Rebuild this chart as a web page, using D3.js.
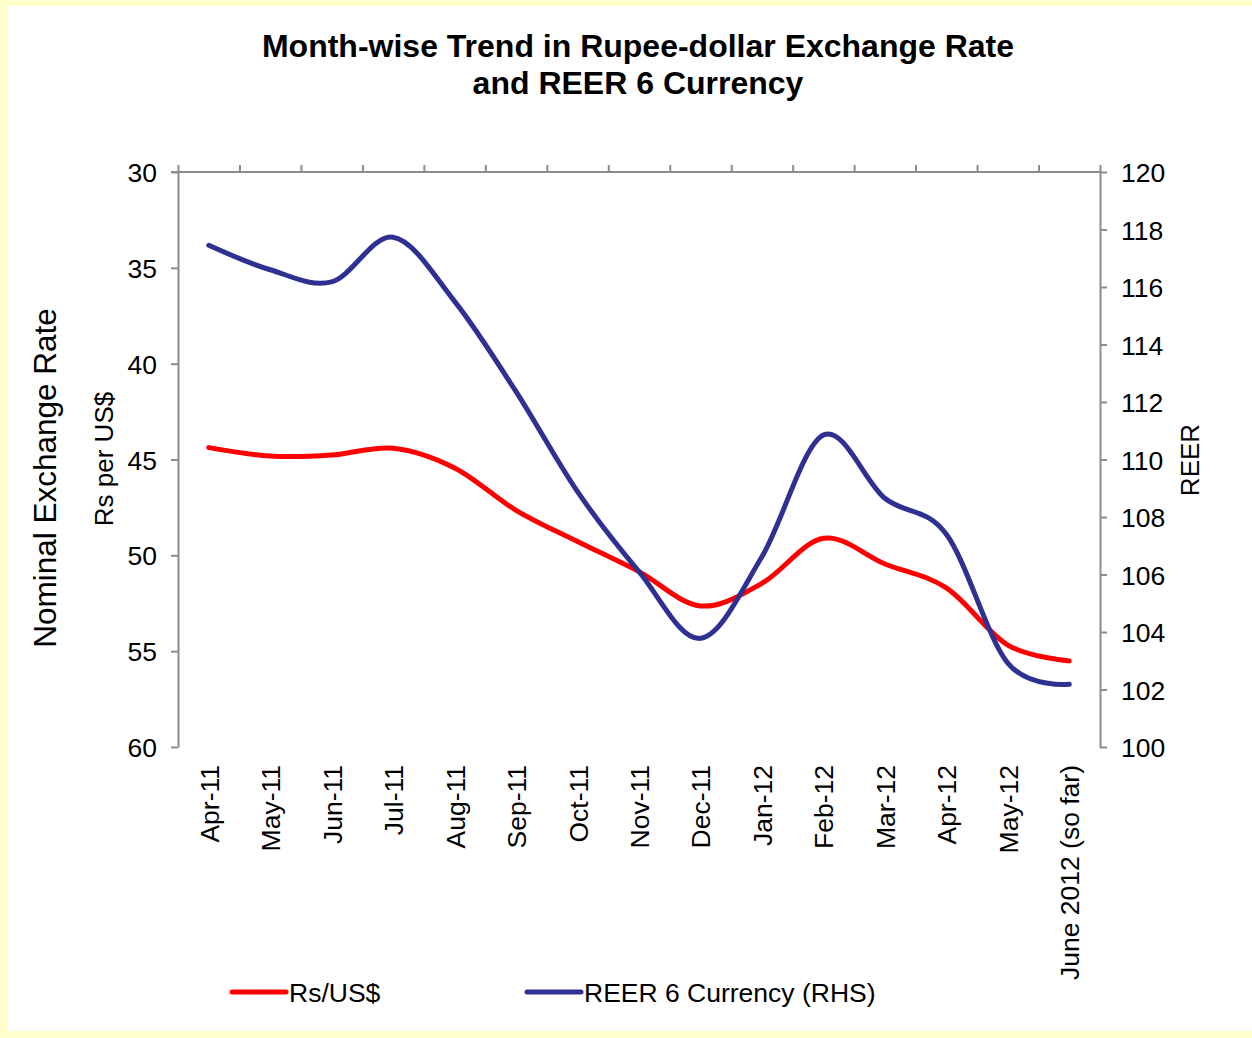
<!DOCTYPE html>
<html>
<head>
<meta charset="utf-8">
<script src="https://cdn.jsdelivr.net/npm/d3@7"></script>
<style>
  body { margin: 0; background: #FFFFCC; }
  svg { display: block; }
</style>
</head>
<body>
<div class="chart"></div>
<script>
// Month labels
const months = ["Apr-11", "May-11", "Jun-11", "Jul-11", "Aug-11", "Sep-11", "Oct-11", "Nov-11",
  "Dec-11", "Jan-12", "Feb-12", "Mar-12", "Apr-12", "May-12", "June 2012 (so far)"];
// Rs per US$ (left axis, inverted)
const rupee = [44.38, 44.82, 44.77, 44.41, 45.44, 47.65, 49.28, 50.85, 52.64, 51.46, 49.11, 50.45, 51.7, 54.68, 55.51];
// REER 6 currency index (right axis)
const reer = [117.45, 116.6, 116.18, 117.73, 115.5, 112.36, 108.88, 106.1, 103.78, 106.62, 110.85, 108.65, 107.4, 102.92, 102.18];
const leftTicks = [30, 35, 40, 45, 50, 55, 60];
const rightTicks = [100, 102, 104, 106, 108, 110, 112, 114, 116, 118, 120];

const width = 1252
const height = 1038
const plot = { left: 178, right: 1100, top: 172, bottom: 747 };
const font = "Arial, 'Liberation Sans', Helvetica, sans-serif";
const axisColor = "#8c8c8c";

const svg = d3.select(".chart")
  .append("svg")
  .attr("width", width)
  .attr("height", height)

// white panel inside the yellow frame
svg.append("rect")
  .attr("x", 8)
  .attr("y", 6)
  .attr("width", width - 8)
  .attr("height", 1031 - 6)
  .attr("fill", "white");

// Scales
const x = d3.scaleBand()
  .domain(months)
  .range([plot.left, plot.right])
  .padding(0);
const xEdge = d3.scaleLinear()
  .domain([0, months.length])
  .range([plot.left, plot.right]);
const yLeft = d3.scaleLinear()
  .domain([30, 60])
  .range([plot.top, plot.bottom]);
const yRight = d3.scaleLinear()
  .domain([120, 100])
  .range([plot.top, plot.bottom]);

// Title
const title = svg.append("text")
  .attr("x", 638)
  .attr("text-anchor", "middle")
  .style("font-family", font)
  .style("font-size", "32px")
  .style("font-weight", "bold");
title.append("tspan").attr("x", 638).attr("y", 57).text("Month-wise Trend in Rupee-dollar Exchange Rate");
title.append("tspan").attr("x", 638).attr("y", 94).text("and REER 6 Currency");

// Axes
const topAxis = svg.append("g")
  .attr("transform", `translate(0,${plot.top})`)
  .call(d3.axisTop(xEdge).tickValues(d3.range(months.length + 1)).tickFormat("").tickSize(7).tickSizeOuter(0));
topAxis.select(".domain").attr("d", `M${plot.left - 7},0H${plot.right}`);

const leftAxis = svg.append("g")
  .attr("transform", `translate(${plot.left},0)`)
  .call(d3.axisLeft(yLeft).tickValues(leftTicks).tickSize(7).tickSizeOuter(0).tickPadding(14));

const rightAxis = svg.append("g")
  .attr("transform", `translate(${plot.right},0)`)
  .call(d3.axisRight(yRight).tickValues(rightTicks).tickSize(7).tickSizeOuter(0).tickPadding(14));

[topAxis, leftAxis, rightAxis].forEach(a => {
  a.selectAll(".domain, line").attr("stroke", axisColor).attr("stroke-width", 2);
  a.selectAll("text")
    .style("font-family", font)
    .style("font-size", "26.5px")
    .attr("fill", "black");
});
leftAxis.selectAll("text").attr("dy", "0.36em");
rightAxis.selectAll("text").attr("dy", "0.36em");

// Category labels (rotated)
svg.append("g")
  .selectAll("text")
  .data(months)
  .join("text")
  .attr("transform", d => `translate(${x(d) + x.bandwidth() / 2 + 10},765) rotate(-90)`)
  .attr("text-anchor", "end")
  .text(d => d)
  .style("font-family", font)
  .style("font-size", "26.5px");

// Axis titles
svg.append("text")
  .attr("transform", "translate(56,478) rotate(-90)")
  .attr("text-anchor", "middle")
  .text("Nominal Exchange Rate")
  .style("font-family", font)
  .style("font-size", "31.5px");
svg.append("text")
  .attr("transform", "translate(113,459) rotate(-90)")
  .attr("text-anchor", "middle")
  .text("Rs per US$")
  .style("font-family", font)
  .style("font-size", "26px");
svg.append("text")
  .attr("transform", "translate(1199,460) rotate(-90)")
  .attr("text-anchor", "middle")
  .text("REER")
  .style("font-family", font)
  .style("font-size", "26px");

// Lines
const cx = (d, i) => x(months[i]) + x.bandwidth() / 2;
const rupeeLine = d3.line().x(cx).y(d => yLeft(d)).curve(d3.curveCardinal.tension(0));
const reerLine = d3.line().x(cx).y(d => yRight(d)).curve(d3.curveCardinal.tension(0));

svg.append("path")
  .datum(rupee)
  .attr("d", rupeeLine)
  .attr("fill", "none")
  .attr("stroke", "#FF0000")
  .attr("stroke-width", 5)
  .attr("stroke-linecap", "round");

svg.append("path")
  .datum(reer)
  .attr("d", reerLine)
  .attr("fill", "none")
  .attr("stroke", "#2E3192")
  .attr("stroke-width", 5)
  .attr("stroke-linecap", "round");

// Legend
const legendData = [
  { label: "Rs/US$", color: "#FF0000", x: 232 },
  { label: "REER 6 Currency (RHS)", color: "#2E3192", x: 527 }
];
const legend = svg.append("g")
  .selectAll("g")
  .data(legendData)
  .join("g")
  .attr("transform", d => `translate(${d.x},992)`);
legend.append("line")
  .attr("x1", 0).attr("x2", 54)
  .attr("stroke", d => d.color)
  .attr("stroke-width", 5)
  .attr("stroke-linecap", "round");
legend.append("text")
  .attr("x", 57)
  .attr("y", 10)
  .text(d => d.label)
  .style("font-family", font)
  .style("font-size", "26.5px");
</script>
</body>
</html>
